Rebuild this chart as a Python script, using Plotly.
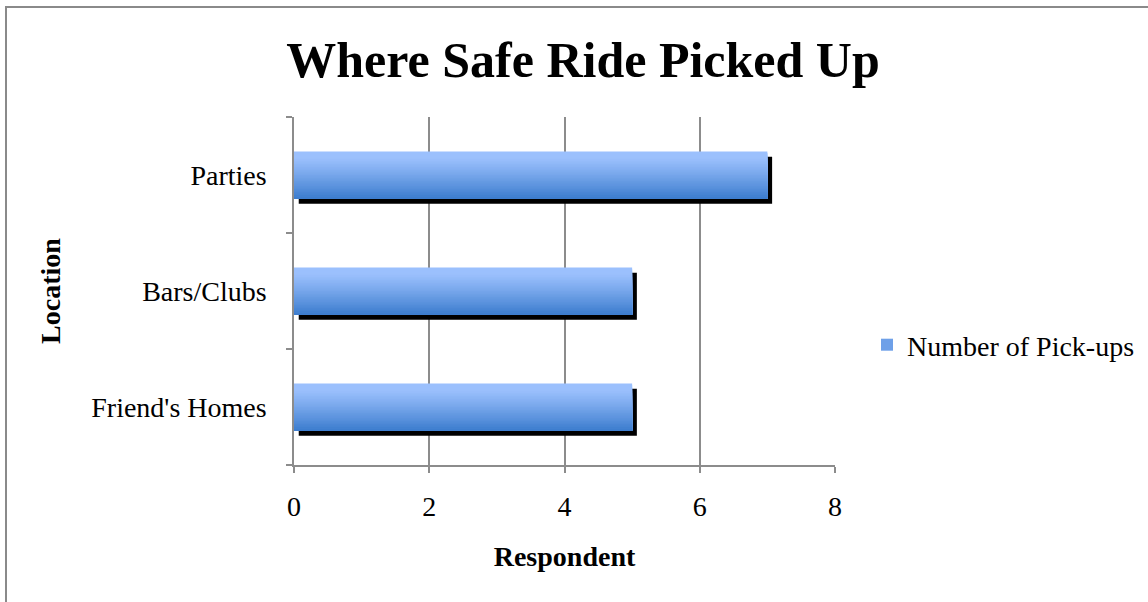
import plotly.graph_objects as go

# Pick-up locations and counts
locations = ["Friend's Homes", "Bars/Clubs", "Parties"]
pickups = [5, 5, 7]
x_ticks = [0, 2, 4, 6, 8]
series_name = "Number of Pick-ups"

FONT = "Liberation Serif"
BAR_W = 0.405
N_STEPS = 30
TOP_RGB = (155, 192, 253)
BOT_RGB = (62, 126, 207)


def blend(t):
    # t=0 -> top colour, t=1 -> bottom colour; upper part stays light longer
    s = max(0.0, (t - 0.12) / 0.88) ** 1.1
    c = [round(a + (b - a) * s) for a, b in zip(TOP_RGB, BOT_RGB)]
    return f"rgb({c[0]},{c[1]},{c[2]})"


fig = go.Figure()

# drop shadow behind each bar
fig.add_trace(go.Bar(
    y=locations, x=pickups, base=0.07, orientation="h",
    width=BAR_W, offset=-BAR_W / 2 - 0.045,
    marker=dict(color="black", line=dict(width=0)),
    showlegend=False, hoverinfo="skip",
))

# vertical gradient: successively shorter bars anchored to the bar bottom,
# each one a little darker, so the layers overlap without seams
for i in range(N_STEPS):
    h = BAR_W * (N_STEPS - i) / N_STEPS
    fig.add_trace(go.Bar(
        y=locations, x=pickups, orientation="h",
        width=h, offset=-BAR_W / 2,
        marker=dict(color=blend(i / (N_STEPS - 1)), line=dict(width=0)),
        showlegend=False, name=series_name,
    ))

# legend entry
fig.add_trace(go.Bar(
    y=[None], x=[None], orientation="h", name=series_name,
    marker=dict(color="rgb(110,160,232)", line=dict(width=0)),
    showlegend=True,
))

grid_col = "#8c8c8c"
TXT = 28

fig.update_layout(
    width=1148, height=602,
    margin=dict(l=294, r=313, t=117, b=137, autoexpand=False),
    paper_bgcolor="white", plot_bgcolor="white",
    barmode="overlay",
    font=dict(family=FONT, color="black", size=TXT),
    title=dict(
        text="<b>Where Safe Ride Picked Up</b>",
        font=dict(family=FONT, size=50, color="black"),
        x=583 / 1148, xanchor="center",
        y=1 - 59 / 602, yanchor="middle",
    ),
    xaxis=dict(
        range=[0, 8], tickvals=x_ticks, ticktext=[str(v) for v in x_ticks],
        showgrid=True, gridcolor=grid_col, gridwidth=1.5,
        showline=True, linecolor=grid_col, linewidth=1.5,
        ticks="outside", ticklen=6, tickcolor=grid_col, tickwidth=1.5,
        ticklabelstandoff=10, tickfont=dict(size=TXT),
        zeroline=False, automargin=False,
        title=dict(text="<b>Respondent</b>", font=dict(size=TXT), standoff=25),
    ),
    yaxis=dict(
        type="category", categoryorder="array", categoryarray=locations,
        range=[-0.5, 2.5],
        showgrid=False,
        showline=True, linecolor=grid_col, linewidth=1.5,
        ticks="outside", ticklen=6, tickcolor=grid_col, tickwidth=1.5,
        tickson="boundaries", ticklabelstandoff=20,
        tickfont=dict(size=TXT), automargin=False,
        title=dict(text="<b>Location</b>", font=dict(size=TXT), standoff=22),
    ),
    legend=dict(
        x=(867 - 294) / 541, xanchor="left",
        y=(465 - 345) / 348, yanchor="middle",
        font=dict(size=TXT), itemwidth=30,
        bgcolor="rgba(0,0,0,0)",
    ),
    shapes=[dict(
        type="rect", xref="paper", yref="paper",
        x0=(6 - 294) / 541, x1=(1160 - 294) / 541,
        y0=(465 - 620) / 348, y1=(465 - 7) / 348,
        line=dict(color="#8a8a8a", width=2), fillcolor="rgba(0,0,0,0)",
        layer="below",
    )],
)

fig.write_html("out.html")
